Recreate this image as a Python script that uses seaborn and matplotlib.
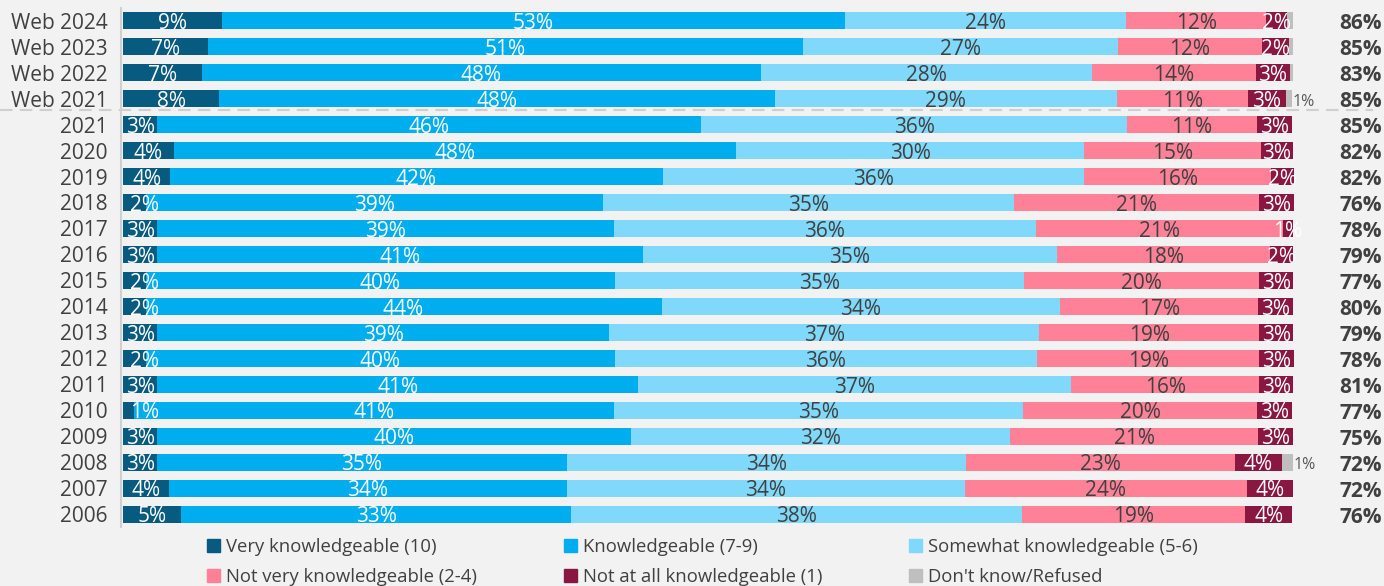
import matplotlib.pyplot as plt
import matplotlib.patches as mpatches
import matplotlib.transforms as mtransforms
import numpy as np
import seaborn as sns

categories = ['Web 2024', 'Web 2023', 'Web 2022', 'Web 2021', '2021', '2020', '2019', '2018',
              '2017', '2016', '2015', '2014', '2013', '2012', '2011', '2010', '2009', '2008',
              '2007', '2006']

# segment widths
very_w = [8.4, 7.2, 6.7, 8.2, 2.9, 4.3, 4.0, 1.9, 2.9, 2.9, 1.9, 1.9, 2.9, 1.9, 2.9, 0.9, 2.9, 2.9, 3.9, 4.9]
know_w = [53.3, 50.9, 47.8, 47.5, 46.5, 48.1, 42.1, 39.1, 39.0, 41.5, 40.1, 44.1, 38.6, 40.1, 41.1, 41.0, 40.5, 35.0, 34.0, 33.4]
some_w = [24.0, 26.9, 28.3, 29.2, 36.4, 29.7, 36.0, 35.1, 36.1, 35.4, 35.0, 34.1, 36.8, 36.1, 37.0, 35.0, 32.4, 34.1, 34.0, 38.5]
notvery_w = [12.0, 12.3, 14.0, 11.2, 11.1, 15.1, 16.0, 21.0, 21.1, 18.2, 20.1, 16.9, 18.8, 19.0, 16.1, 20.0, 21.2, 23.0, 24.1, 19.1]
notatall_w = [1.8, 2.3, 2.9, 3.3, 3.0, 2.8, 2.0, 3.0, 0.9, 2.0, 2.9, 3.0, 2.9, 3.0, 2.9, 3.0, 3.0, 4.0, 4.0, 4.0]
dk_w = [0.5, 0.4, 0.3, 0.5, 0, 0, 0, 0, 0, 0, 0, 0, 0, 0, 0, 0, 0, 1.0, 0, 0]

# printed labels
very_lab = [9, 7, 7, 8, 3, 4, 4, 2, 3, 3, 2, 2, 3, 2, 3, 1, 3, 3, 4, 5]
know_lab = [53, 51, 48, 48, 46, 48, 42, 39, 39, 41, 40, 44, 39, 40, 41, 41, 40, 35, 34, 33]
some_lab = [24, 27, 28, 29, 36, 30, 36, 35, 36, 35, 35, 34, 37, 36, 37, 35, 32, 34, 34, 38]
notvery_lab = [12, 12, 14, 11, 11, 15, 16, 21, 21, 18, 20, 17, 19, 19, 16, 20, 21, 23, 24, 19]
notatall_lab = [2, 2, 3, 3, 3, 3, 2, 3, 1, 2, 3, 3, 3, 3, 3, 3, 3, 4, 4, 4]
dk_lab = [None, None, None, 1, None, None, None, None, None, None, None, None, None, None, None, None, None, 1, None, None]
totals = [86, 85, 83, 85, 85, 82, 82, 76, 78, 79, 77, 80, 79, 78, 81, 77, 75, 72, 72, 76]

names = ['Very knowledgeable (10)', 'Knowledgeable (7-9)', 'Somewhat knowledgeable (5-6)',
         'Not very knowledgeable (2-4)', 'Not at all knowledgeable (1)', "Don't know/Refused"]
colors = ['#075a80', '#00aeef', '#80d8fb', '#ff8197', '#8a1740', '#bfbfbf']
text_colors = ['white', 'white', '#404040', '#404040', 'white', '#5a5a5a']

plt.rcParams['font.family'] = ['Open Sans', 'DejaVu Sans']

bg = '#f2f2f2'
fig = plt.figure(figsize=(13.84, 5.86), dpi=100, facecolor=bg)
ax = fig.add_axes([0.0874, 0.1007, 0.9126, 0.886])
ax.set_facecolor(bg)

widths = [very_w, know_w, some_w, notvery_w, notatall_w, dk_w]
labels = [very_lab, know_lab, some_lab, notvery_lab, notatall_lab, dk_lab]
cum = np.cumsum(np.array(widths), axis=0)

# stacked bars: draw cumulative totals from the right-most segment inwards
for i in reversed(range(6)):
    sns.barplot(x=cum[i], y=categories, color=colors[i], saturation=1, width=0.655,
                orient='h', linewidth=0, errorbar=None, ax=ax)

for r in range(len(categories)):
    left = 0
    for k in range(6):
        w = widths[k][r]
        lab = labels[k][r]
        if lab is not None:
            if k == 5:
                ax.text(left + w + 0.05, r + 0.285, f'{lab}%', ha='left', va='baseline',
                        fontsize=11.5, color=text_colors[k])
            else:
                x = left + w / 2
                if k == 0 and w < 2.5:
                    x = left + 1.8
                ax.text(x, r + 0.32, f'{lab}%', ha='center', va='baseline', fontsize=15,
                        color=text_colors[k])
        left += w
    ax.text(105.75, r + 0.33, f'{totals[r]}%', ha='center', va='baseline', fontsize=15,
            fontweight='bold', color='#404040')

ax.set_xlim(-0.2, 107.75)
ax.set_ylim(19.5, -0.5)
ax.set_xlabel('')
ax.set_ylabel('')
ax.set_xticks([])
ax.tick_params(axis='y', length=0, pad=9.5, labelsize=15, labelcolor='#404040')
for s in ['top', 'right', 'bottom']:
    ax.spines[s].set_visible(False)
ax.spines['left'].set_color('#d0d0d0')
ax.spines['left'].set_linewidth(1.5)

# dashed separator between web and phone surveys
trans = mtransforms.blended_transform_factory(ax.transAxes, ax.transData)
ax.plot([-0.0958, 0.991], [3.45, 3.45], transform=trans, clip_on=False,
        ls=(0, (6, 3.5)), color='#cfcfcf', lw=1.5)

handles = [mpatches.Patch(color=c, label=n) for c, n in zip(colors, names)]
order = [0, 3, 1, 4, 2, 5]
fig.legend([handles[i] for i in order], [names[i] for i in order], ncol=3,
           loc='upper left', bbox_to_anchor=(207 / 1384, 1 - 538 / 586),
           frameon=False, fontsize=13.3, labelcolor='#404040', handlelength=0.7,
           handleheight=0.7, handletextpad=0.35, columnspacing=4.68,
           labelspacing=0.67, borderpad=0, borderaxespad=0)

fig.savefig('out.png', dpi=100, facecolor=bg)
